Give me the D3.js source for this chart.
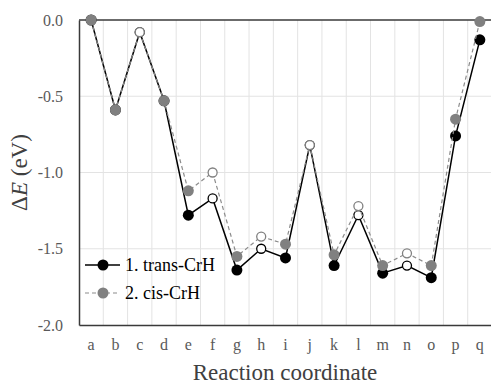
<!DOCTYPE html>
<html>
<head>
<meta charset="utf-8">
<script src="https://cdn.jsdelivr.net/npm/d3@7"></script>
<style>
  body { margin: 0; background: #fff; }
</style>
</head>
<body>
<div id="chart"></div>
<script>
// reaction steps a..q, open marker = transition state
let steps = ["a","b","c","d","e","f","g","h","i","j","k","l","m","n","o","p","q"];
let isTS = [false,false,true,false,false,true,false,true,false,true,false,true,false,true,false,false,false];
let trans = [0, -0.59, -0.08, -0.53, -1.28, -1.17, -1.64, -1.50, -1.56, -0.82, -1.61, -1.28, -1.66, -1.61, -1.69, -0.76, -0.13];
let cis = [0, -0.59, -0.08, -0.53, -1.12, -1.00, -1.55, -1.42, -1.47, -0.82, -1.54, -1.22, -1.61, -1.53, -1.61, -0.65, -0.01];
let yTicks = [0, -0.5, -1.0, -1.5, -2.0];

let serif = "Liberation Serif";
let w = 491, h = 385;
let m = {top: 20, right: -1, bottom: 60, left: 79};

let svg = d3.select("#chart")
  .append("svg")
  .attr("width", w)
  .attr("height", h);

let x = d3.scaleBand()
  .domain(steps)
  .range([m.left, w - m.right]);

let y = d3.scaleLinear()
  .domain([-2, 0])
  .range([h - m.bottom, m.top]);

// gridlines
svg.append("g")
  .selectAll("line")
  .data(steps.slice(1))
  .enter()
  .append("line")
  .attr("x1", (d) => x(d))
  .attr("x2", (d) => x(d))
  .attr("y1", y(0))
  .attr("y2", y(-2))
  .attr("stroke", "#e3e3e3")
  .attr("stroke-width", 1);

svg.append("g")
  .selectAll("line")
  .data(yTicks.slice(1, 4))
  .enter()
  .append("line")
  .attr("x1", m.left)
  .attr("x2", w)
  .attr("y1", (d) => y(d))
  .attr("y2", (d) => y(d))
  .attr("stroke", "#e3e3e3")
  .attr("stroke-width", 1);

// frame
let yAxis = svg.append("g")
  .attr("transform", "translate(" + m.left + ",0)")
  .call(d3.axisLeft(y).tickValues(yTicks).tickSize(0).tickPadding(16).tickFormat((d) => d.toFixed(1)));
yAxis.select(".domain").attr("stroke", "#3a3a3a").attr("stroke-width", 1.5);
yAxis.selectAll("text")
  .attr("font-family", serif)
  .attr("font-size", 16)
  .attr("fill", "#595959");

let xAxis = svg.append("g")
  .attr("transform", "translate(0," + y(-2) + ")")
  .call(d3.axisBottom(x).tickSize(0).tickPadding(14));
xAxis.select(".domain").attr("stroke", "#3a3a3a").attr("stroke-width", 1.5);
xAxis.selectAll("text")
  .attr("font-family", serif)
  .attr("font-size", 16)
  .attr("fill", "#595959");

svg.append("line")
  .attr("x1", m.left).attr("x2", w)
  .attr("y1", y(0)).attr("y2", y(0))
  .attr("stroke", "#3a3a3a").attr("stroke-width", 1.5);

// axis titles
svg.append("text")
  .attr("x", (m.left + w) / 2)
  .attr("y", 380)
  .attr("text-anchor", "middle")
  .attr("fill", "#404040")
  .attr("font-family", serif)
  .attr("font-size", 23)
  .text("Reaction coordinate");

let yt = svg.append("text")
  .attr("transform", "translate(27," + ((y(0) + y(-2)) / 2) + ") rotate(-90)")
  .attr("text-anchor", "middle")
  .attr("fill", "#404040")
  .attr("font-family", serif)
  .attr("font-size", 23);
yt.append("tspan").text("Δ");
yt.append("tspan").attr("font-style", "italic").text("E");
yt.append("tspan").text(" (eV)");

let cx = (d, i) => x(steps[i]) + x.bandwidth() / 2;

let series = [
  {name: "1. trans-CrH", vals: trans, color: "#000000", lineColor: "#000000", dash: null, lw: 1.5},
  {name: "2. cis-CrH", vals: cis, color: "#808080", lineColor: "#8c8c8c", dash: "4,3", lw: 1.2}
];

series.forEach((s) => {
  let line = d3.line()
    .x((d, i) => cx(d, i))
    .y((d) => y(d));

  svg.append("path")
    .datum(s.vals)
    .attr("d", line)
    .attr("fill", "none")
    .attr("stroke", s.lineColor)
    .attr("stroke-width", s.lw)
    .attr("stroke-dasharray", s.dash);

  svg.append("g")
    .selectAll("circle")
    .data(s.vals)
    .enter()
    .append("circle")
    .attr("cx", (d, i) => cx(d, i))
    .attr("cy", (d) => y(d))
    .attr("r", (d, i) => isTS[i] ? 4.5 : 5.5)
    .attr("fill", (d, i) => isTS[i] ? "#fff" : s.color)
    .attr("stroke", s.color)
    .attr("stroke-width", (d, i) => isTS[i] ? 1.3 : 0);
});

// legend
let legend = svg.append("g")
  .attr("transform", "translate(85,265)");

series.forEach((s, i) => {
  let g = legend.append("g").attr("transform", "translate(0," + (i * 28) + ")");
  g.append("line")
    .attr("x1", 0).attr("x2", 35)
    .attr("y1", 0).attr("y2", 0)
    .attr("stroke", s.lineColor)
    .attr("stroke-width", s.lw)
    .attr("stroke-dasharray", s.dash);
  g.append("circle")
    .attr("cx", 18).attr("cy", 0).attr("r", 5.5)
    .attr("fill", s.color);
  g.append("text")
    .attr("x", 40).attr("y", 6)
    .attr("fill", "#000")
    .attr("font-family", serif)
    .attr("font-size", 18)
    .text(s.name);
});
</script>
</body>
</html>
